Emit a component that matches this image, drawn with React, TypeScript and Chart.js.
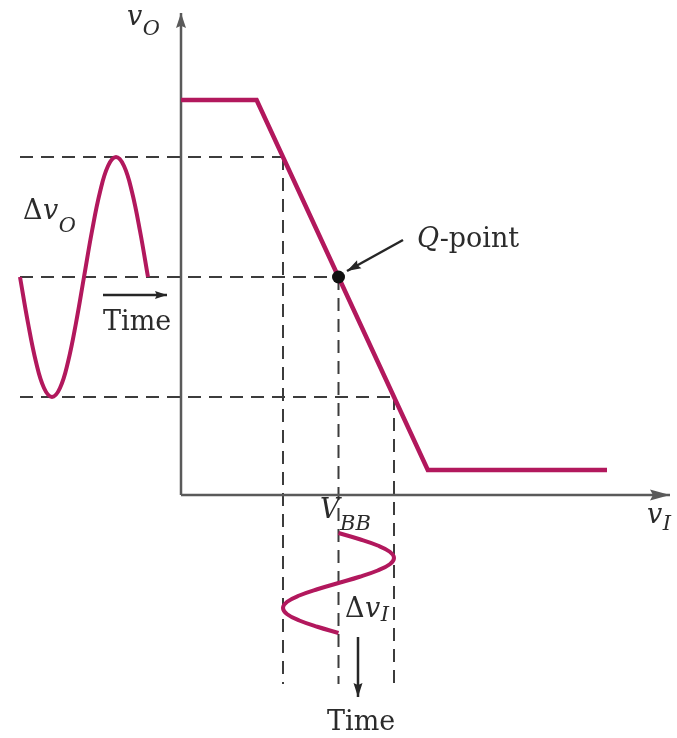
import React, { useEffect, useRef } from "react";
import { Chart, registerables } from "chart.js";

Chart.register(...registerables);

// ---- data (diagram units: vI horizontal, vO vertical; negative y = time below the vI axis) ----
const transferVI = [0, 7.56, 24.68, 42.6];
const transferVO = [39.5, 39.5, 2.5, 2.5];

const qVI = 15.75;
const qVO = 21.8;

// output sine (vO vs time, time running to the right)
const outSineT = [-16.1, -15.3, -14.5, -13.7, -12.9, -12.1, -11.3, -10.5, -9.7, -8.9, -8.1, -7.3, -6.5, -5.7, -4.9, -4.1, -3.3];
const outSineVO = [21.8, 17.2, 13.3, 10.7, 9.8, 10.7, 13.3, 17.2, 21.8, 26.4, 30.3, 32.9, 33.8, 32.9, 30.3, 26.4, 21.8];

// input sine (vI vs time, time running downward)
const inSineVI = [15.75, 17.87, 19.67, 20.88, 21.3, 20.88, 19.67, 17.87, 15.75, 13.63, 11.83, 10.62, 10.2, 10.62, 11.83, 13.63, 15.75];
const inSineT = [-3.8, -4.425, -5.05, -5.675, -6.3, -6.925, -7.55, -8.175, -8.8, -9.425, -10.05, -10.675, -11.3, -11.925, -12.55, -13.175, -13.8];

// projection levels (dashed)
const levelVO = [33.8, 21.8, 9.8];
const levelVI = [10.2, 15.75, 21.3];
const dashLeftEnd = -16.1;
const dashBottomEnd = -18.9;

// axes extents
const xAxisEnd = 48.9;
const yAxisEnd = 48.2;

// arrows [x0, y0, x1, y1]
const timeArrowH = [-7.8, 20.0, -1.4, 20.0];
const timeArrowV = [17.7, -14.2, 17.7, -20.2];
const qArrow = [22.2, 25.5, 16.6, 22.4];

type Part = { t: string; it?: boolean; sub?: boolean };
type Label = { x: number; y: number; subDy: number; parts: Part[] };

const labels: Label[] = [
  { x: -5.4, y: 47.0, subDy: 10, parts: [{ t: "v", it: true }, { t: "O", it: true, sub: true }] },
  { x: -15.8, y: 27.6, subDy: 13, parts: [{ t: "Δ" }, { t: "v", it: true }, { t: "O", it: true, sub: true }] },
  { x: -7.8, y: 16.5, subDy: 0, parts: [{ t: "Time" }] },
  { x: 23.6, y: 24.8, subDy: 0, parts: [{ t: "Q", it: true }, { t: "-point" }] },
  { x: 13.9, y: -2.3, subDy: 12, parts: [{ t: "V", it: true }, { t: "BB", it: true, sub: true }] },
  { x: 46.6, y: -2.8, subDy: 7, parts: [{ t: "v", it: true }, { t: "I", it: true, sub: true }] },
  { x: 16.4, y: -12.2, subDy: 4, parts: [{ t: "Δ" }, { t: "v", it: true }, { t: "I", it: true, sub: true }] },
  { x: 14.6, y: -23.5, subDy: 0, parts: [{ t: "Time" }] },
];

const CURVE = "#b2185d";
const AXIS = "#5a5a5a";
const DASH = "#3c3c3c";
const INK = "#2b2b2b";
const FONT = '"DejaVu Serif", "Liberation Serif", serif';

const zip = (xs: number[], ys: number[]) => xs.map((x, i) => ({ x, y: ys[i] }));
const seg = (a: number[]) => [
  { x: a[0], y: a[1] },
  { x: a[2], y: a[3] },
];

const arrowPlugin = {
  id: "arrowheads",
  afterDatasetsDraw(chart: any) {
    const ctx = chart.ctx;
    chart.data.datasets.forEach((ds: any, i: number) => {
      if (!ds.arrowLength) return;
      const pts = chart.getDatasetMeta(i).data;
      const a = pts[pts.length - 2];
      const b = pts[pts.length - 1];
      const ang = Math.atan2(b.y - a.y, b.x - a.x);
      const L = ds.arrowLength;
      const W = ds.arrowWidth;
      ctx.save();
      ctx.translate(b.x, b.y);
      ctx.rotate(ang);
      ctx.beginPath();
      ctx.moveTo(0, 0);
      ctx.lineTo(-L, W / 2);
      ctx.lineTo(-L * 0.85, 0);
      ctx.lineTo(-L, -W / 2);
      ctx.closePath();
      ctx.fillStyle = ds.borderColor;
      ctx.fill();
      ctx.restore();
    });
  },
};

const labelPlugin = {
  id: "textLabels",
  afterDatasetsDraw(chart: any) {
    const ctx = chart.ctx;
    const xs = chart.scales.x;
    const ys = chart.scales.y;
    ctx.save();
    ctx.fillStyle = INK;
    ctx.textBaseline = "alphabetic";
    ctx.textAlign = "left";
    labels.forEach((lb) => {
      let px = xs.getPixelForValue(lb.x);
      const py = ys.getPixelForValue(lb.y);
      lb.parts.forEach((p) => {
        const size = p.sub ? 21 : 27;
        ctx.font = `${p.it ? "italic " : ""}${size}px ${FONT}`;
        ctx.fillText(p.t, px, py + (p.sub ? lb.subDy : 0));
        px += ctx.measureText(p.t).width + (p.sub ? 0 : 0.5);
      });
    });
    ctx.restore();
  },
};

export default function App() {
  const ref = useRef<HTMLCanvasElement | null>(null);

  useEffect(() => {
    document.body.style.margin = "0";
    const canvas = ref.current;
    if (!canvas) return;

    const line = (data: any[], color: string, width: number, extra: any = {}) => ({
      data,
      showLine: true,
      borderColor: color,
      backgroundColor: color,
      borderWidth: width,
      pointRadius: 0,
      fill: false,
      borderCapStyle: "butt",
      borderJoinStyle: "miter",
      ...extra,
    });

    const dashes: any[] = [];
    levelVO.forEach((v, i) => {
      dashes.push(line([{ x: dashLeftEnd, y: v }, { x: levelVI[i], y: v }], DASH, 2, { borderDash: [13, 8] }));
      dashes.push(line([{ x: levelVI[i], y: v }, { x: levelVI[i], y: dashBottomEnd }], DASH, 2, { borderDash: [13, 8] }));
    });

    const datasets: any[] = [
      {
        data: [{ x: qVI, y: qVO }],
        showLine: false,
        pointRadius: 6.5,
        pointBackgroundColor: "#111",
        pointBorderColor: "#111",
        pointBorderWidth: 0,
      },
      line(zip(transferVI, transferVO), CURVE, 4.5),
      line(zip(outSineT, outSineVO), CURVE, 4, { tension: 0.4 }),
      line(zip(inSineVI, inSineT), CURVE, 4, { tension: 0.4 }),
      line(seg(qArrow), "#262626", 2.5, { arrowLength: 14, arrowWidth: 9 }),
      line(seg(timeArrowH), "#262626", 2.5, { arrowLength: 12, arrowWidth: 8 }),
      line(seg(timeArrowV), "#262626", 2.5, { arrowLength: 14, arrowWidth: 9 }),
      line([{ x: 0, y: 0 }, { x: xAxisEnd, y: 0 }], AXIS, 2.5, { arrowLength: 20, arrowWidth: 11 }),
      line([{ x: 0, y: 0 }, { x: 0, y: yAxisEnd }], AXIS, 2.5, { arrowLength: 15, arrowWidth: 10 }),
      ...dashes,
    ];

    const chart = new Chart(canvas, {
      type: "scatter",
      data: { datasets },
      options: {
        animation: false,
        responsive: false,
        maintainAspectRatio: false,
        events: [],
        layout: { padding: 0, autoPadding: false },
        plugins: { legend: { display: false }, tooltip: { enabled: false } },
        scales: {
          x: { type: "linear", min: -18.1, max: 49.6, display: false },
          y: { type: "linear", min: -24.3, max: 49.5, display: false },
        },
      },
      plugins: [arrowPlugin, labelPlugin],
    } as any);

    return () => chart.destroy();
  }, []);

  return (
    <div style={{ position: "absolute", left: 0, top: 0, width: 677, height: 738, background: "#fff" }}>
      <canvas ref={ref} width={677} height={738} style={{ display: "block" }} />
    </div>
  );
}
